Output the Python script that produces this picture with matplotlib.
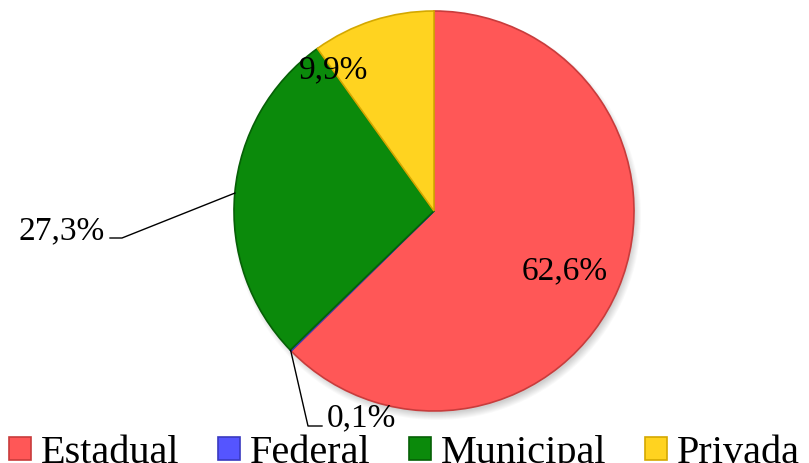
import numpy as np
import matplotlib.pyplot as plt
from matplotlib.patches import Circle

# data
categories = ["Estadual", "Federal", "Municipal", "Privada"]
shares = [62.6, 0.1, 27.3, 9.9]
labels = ["62,6%", "0,1%", "27,3%", "9,9%"]
colors = ["#FF5757", "#5555FF", "#0B8A0B", "#FFD320"]
edges = ["#C83C3C", "#3A3AC0", "#066006", "#D4A800"]

plt.rcParams["font.family"] = ["Liberation Serif", "DejaVu Serif"]

W, H = 809, 464
fig = plt.figure(figsize=(W / 100, H / 100), dpi=100)
ax = fig.add_axes([0, 0, 1, 1])

cx, cy, r = 434, H - 212, 200

# soft shadow under the pie
for k in range(8):
    ax.add_patch(Circle((cx + 3, cy - 5), r + 4 - k, color="#000000",
                        alpha=0.025, lw=0, zorder=0))

wedges, _ = ax.pie(shares, colors=colors, startangle=90, counterclock=False,
                   center=(cx, cy), radius=r,
                   wedgeprops=dict(linewidth=1.2))
for w, ec in zip(wedges, edges):
    w.set_edgecolor(ec)
    w.set_zorder(2)

ax.set_xlim(0, W)
ax.set_ylim(0, H)
ax.set_aspect("equal")
ax.axis("off")

def mid_angle(w):
    return np.deg2rad((w.theta1 + w.theta2) / 2)

fs = 24
# Estadual label inside
a = mid_angle(wedges[0])
ax.text(cx + 0.71 * r * np.cos(a), cy + 0.71 * r * np.sin(a) - 4, labels[0],
        fontsize=fs, ha="center", va="center", zorder=5)

# Privada label
ax.text(334, H - 70, labels[3], fontsize=fs, ha="center", va="center", zorder=5)

# Municipal label with leader
a = mid_angle(wedges[2])
px, py = cx + r * np.cos(a), cy + r * np.sin(a)
ax.plot([px, 122, 110], [py, H - 239, H - 239], color="black", lw=1, zorder=4)
ax.text(105, H - 231, labels[2], fontsize=fs, ha="right", va="center", zorder=5)

# Federal label with leader
a = mid_angle(wedges[1])
px, py = cx + r * np.cos(a), cy + r * np.sin(a)
ax.plot([px, 308, 322], [py, H - 427, H - 427], color="black", lw=1, zorder=4)
ax.text(327, H - 418, labels[1], fontsize=fs, ha="left", va="center", zorder=5)

leg = ax.legend(wedges, categories, ncol=4, loc="lower center",
                bbox_to_anchor=(0.5, -0.018), frameon=False, fontsize=29,
                handlelength=0.55, handleheight=0.5, handletextpad=0.25,
                columnspacing=0.95, borderaxespad=0, borderpad=0)

fig.savefig("out.png", dpi=100)
